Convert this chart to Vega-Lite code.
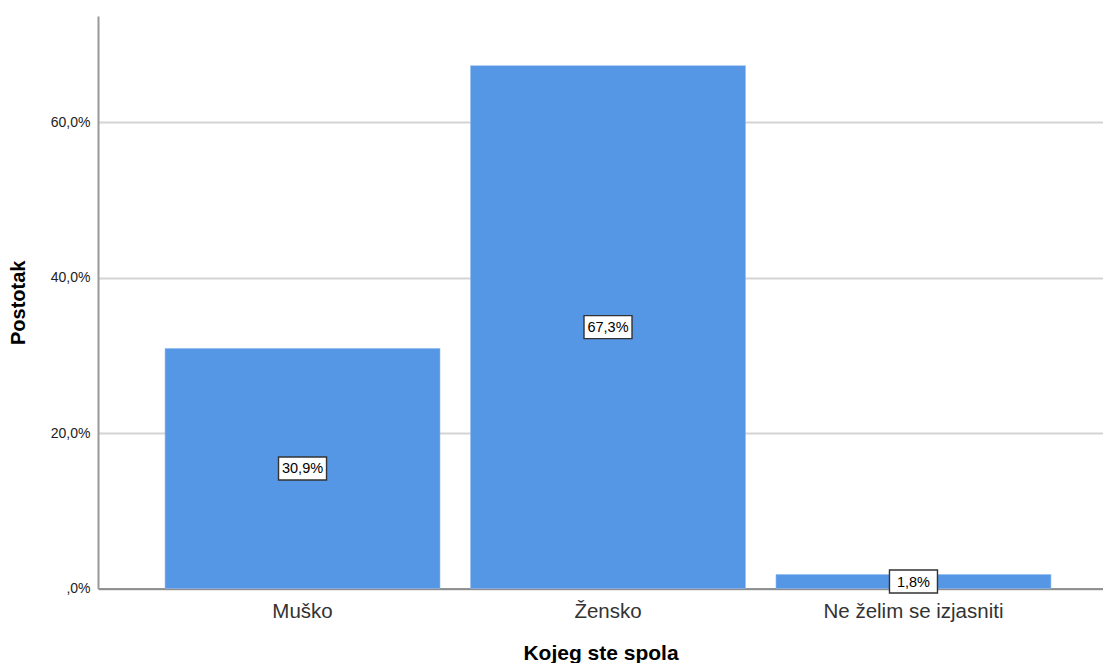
{
  "$schema": "https://vega.github.io/schema/vega-lite/v6.json",
  "width": 1005,
  "height": 572.5,
  "autosize": {"type": "none"},
  "padding": {"left": 98, "top": 16, "right": 0, "bottom": 74},
  "background": "white",
  "config": {
    "view": {"stroke": null},
    "font": "Liberation Sans"
  },
  "data": {
    "values": [
      {"spol": "Muško", "pct": 30.9, "label": "30,9%"},
      {"spol": "Žensko", "pct": 67.3, "label": "67,3%"},
      {"spol": "Ne želim se izjasniti", "pct": 1.8, "label": "1,8%"}
    ]
  },
  "encoding": {
    "x": {
      "field": "spol",
      "type": "nominal",
      "sort": null,
      "scale": {"paddingInner": 0.1, "paddingOuter": 0.195, "align": 0.563},
      "axis": {
        "title": "Kojeg ste spola",
        "titleFont": "Liberation Sans",
        "titleFontSize": 21,
        "titleFontWeight": "bold",
        "titleColor": "#000",
        "titlePadding": 20,
        "labelFont": "Liberation Sans",
        "labelFontSize": 20.5,
        "labelColor": "#333",
        "labelPadding": 13,
        "labelAngle": 0,
        "ticks": false,
        "domainColor": "#777",
        "domainWidth": 1.5,
        "grid": false
      }
    }
  },
  "layer": [
    {
      "mark": {"type": "bar", "color": "#5596e5", "stroke": "#8fbaf0", "strokeWidth": 0.6},
      "encoding": {
        "y": {
          "field": "pct",
          "type": "quantitative",
          "scale": {"domain": [0, 73.7], "nice": false},
          "axis": {
            "title": "Postotak",
            "titleFont": "Liberation Sans",
            "titleFontSize": 20,
            "titleFontWeight": "bold",
            "titleColor": "#000",
            "titlePadding": 22,
            "values": [0, 20, 40, 60],
            "labelExpr": "datum.value == 0 ? ',0%' : replace(format(datum.value, '.1f'), '.', ',') + '%'",
            "labelFont": "Liberation Sans",
            "labelFontSize": 14,
            "labelColor": "#222",
            "labelPadding": 8,
            "ticks": false,
            "grid": true,
            "gridColor": "#d4d4d4",
            "gridWidth": 2,
            "domainColor": "#999",
            "domainWidth": 2
          }
        }
      }
    },
    {
      "transform": [{"calculate": "datum.pct / 2", "as": "mid"}],
      "mark": {
        "type": "point",
        "shape": "M-1,-0.479L1,-0.479L1,0.479L-1,0.479Z",
        "filled": true,
        "fill": "white",
        "stroke": "#333",
        "strokeWidth": 1.4,
        "opacity": 1,
        "size": 2304
      },
      "encoding": {
        "y": {"field": "mid", "type": "quantitative"}
      }
    },
    {
      "transform": [{"calculate": "datum.pct / 2", "as": "mid"}],
      "mark": {"type": "text", "font": "Liberation Sans", "fontSize": 14.5, "color": "#000", "baseline": "middle", "align": "center", "dy": 1},
      "encoding": {
        "y": {"field": "mid", "type": "quantitative"},
        "text": {"field": "label"}
      }
    }
  ]
}
